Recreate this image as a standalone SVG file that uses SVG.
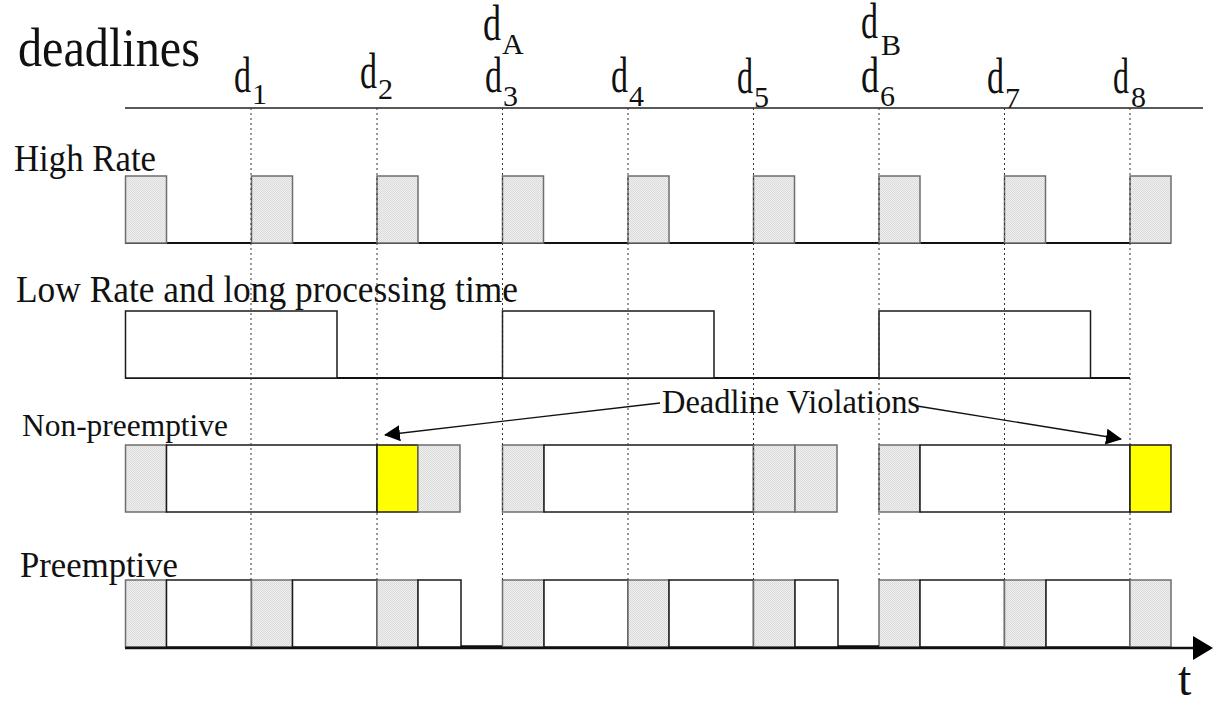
<svg xmlns="http://www.w3.org/2000/svg" width="1213" height="701" viewBox="0 0 1213 701">
  <defs>
    <!-- fine stipple used for the high-rate task slots -->
    <pattern id="stipple" width="2" height="2" patternUnits="userSpaceOnUse">
      <rect width="2" height="2" fill="#f0f0f0"/>
      <rect width="1" height="1" fill="#dadada"/>
      <rect x="1" y="1" width="1" height="1" fill="#dadada"/>
    </pattern>
    <marker id="head" markerWidth="16" markerHeight="16" refX="15" refY="8" orient="auto" markerUnits="userSpaceOnUse">
      <path d="M0,0 L16,8 L0,16 z" fill="#000"/>
    </marker>
  </defs>
  <style>
    text { font-family: "Liberation Serif", "Times New Roman", serif; fill: #111; }
    .big { font-size: 38px; }
    .dmain { font-size: 50px; }
    .dsub { font-size: 30px; }
    .hi { fill: url(#stipple); stroke: #6e6e6e; stroke-width: 1.5; }
    .lo { fill: #fff; stroke: #1a1a1a; stroke-width: 1.5; }
    .miss { fill: #ffff00; stroke: #1a1a1a; stroke-width: 1.5; }
    .base { stroke: #111; stroke-width: 2; fill: none; }
    .tick { stroke: #333; stroke-width: 1; stroke-dasharray: 2 3; fill: none; }
    .conn { stroke: #111; stroke-width: 1.3; fill: none; marker-end: url(#head); }
  </style>
  <rect width="1213" height="701" fill="#fff"/>

  <!-- title and row labels -->
  <g id="title"><text x="18" y="66" style="font-size:54px" textLength="182" lengthAdjust="spacingAndGlyphs">deadlines</text></g>
  <g id="label-high"><text class="big" x="14" y="171" textLength="142" lengthAdjust="spacingAndGlyphs">High Rate</text></g>
  <g id="label-low"><text class="big" x="16" y="302" textLength="502" lengthAdjust="spacingAndGlyphs">Low Rate and long processing time</text></g>
  <g id="label-nonpre"><text x="22" y="436" style="font-size:32px" textLength="206" lengthAdjust="spacingAndGlyphs">Non-preemptive</text></g>
  <g id="label-pre"><text x="20" y="577" style="font-size:36px" textLength="158" lengthAdjust="spacingAndGlyphs">Preemptive</text></g>

  <!-- deadline axis -->
  <g id="deadline-axis">
    <line x1="125" y1="108" x2="1203" y2="108" stroke="#222" stroke-width="1.5"/>
  </g>

  <!-- deadline labels -->
  <g id="deadline-labels">
    <text class="dmain" x="234" y="92" textLength="17" lengthAdjust="spacingAndGlyphs">d</text><text class="dsub" x="252" y="104">1</text>
    <text class="dmain" x="360" y="88" textLength="17" lengthAdjust="spacingAndGlyphs">d</text><text class="dsub" x="378" y="99">2</text>
    <text class="dmain" x="483" y="40" textLength="18" lengthAdjust="spacingAndGlyphs">d</text><text class="dsub" x="502" y="54">A</text>
    <text class="dmain" x="485" y="92" textLength="17" lengthAdjust="spacingAndGlyphs">d</text><text class="dsub" x="503" y="106">3</text>
    <text class="dmain" x="611" y="92" textLength="17" lengthAdjust="spacingAndGlyphs">d</text><text class="dsub" x="629" y="106">4</text>
    <text class="dmain" x="737" y="93" textLength="16" lengthAdjust="spacingAndGlyphs">d</text><text class="dsub" x="754" y="107">5</text>
    <text class="dmain" x="861" y="38" textLength="17" lengthAdjust="spacingAndGlyphs">d</text><text class="dsub" x="881" y="55">B</text>
    <text class="dmain" x="861" y="92" textLength="18" lengthAdjust="spacingAndGlyphs">d</text><text class="dsub" x="880" y="106">6</text>
    <text class="dmain" x="987" y="93" textLength="17" lengthAdjust="spacingAndGlyphs">d</text><text class="dsub" x="1005" y="108">7</text>
    <text class="dmain" x="1113" y="93" textLength="16" lengthAdjust="spacingAndGlyphs">d</text><text class="dsub" x="1131" y="107">8</text>
  </g>

  <!-- high-rate task: short periodic jobs -->
  <g id="row-high">
    <line class="base" x1="125" y1="243" x2="1171" y2="243"/>
    <rect class="hi" x="125.5" y="176" width="41" height="67"/>
    <rect class="hi" x="251.5" y="176" width="41" height="67"/>
    <rect class="hi" x="377" y="176" width="41" height="67"/>
    <rect class="hi" x="502.5" y="176" width="41" height="67"/>
    <rect class="hi" x="628" y="176" width="41" height="67"/>
    <rect class="hi" x="753.5" y="176" width="41" height="67"/>
    <rect class="hi" x="879" y="176" width="41" height="67"/>
    <rect class="hi" x="1004.5" y="176" width="41" height="67"/>
    <rect class="hi" x="1130" y="176" width="41" height="67"/>
  </g>

  <!-- low-rate task: long jobs -->
  <g id="row-low">
    <line class="base" x1="125" y1="378" x2="1130" y2="378" stroke-width="1.5"/>
    <rect class="lo" x="125.5" y="311" width="211.5" height="67"/>
    <rect class="lo" x="502.5" y="311" width="211.5" height="67"/>
    <rect class="lo" x="879" y="311" width="211.5" height="67"/>
  </g>

  <!-- non-preemptive schedule -->
  <g id="row-nonpre">
    <rect class="hi" x="125.5" y="445" width="41" height="67"/>
    <rect class="lo" x="166.5" y="445" width="210.5" height="67"/>
    <rect class="miss" x="377" y="445" width="41" height="67"/>
    <rect class="hi" x="418" y="445" width="42" height="67"/>
    <rect class="hi" x="502.5" y="445" width="41.5" height="67"/>
    <rect class="lo" x="544" y="445" width="209.5" height="67"/>
    <rect class="hi" x="753.5" y="445" width="41.5" height="67"/>
    <rect class="hi" x="795" y="445" width="42" height="67"/>
    <rect class="hi" x="879" y="445" width="41" height="67"/>
    <rect class="lo" x="920" y="445" width="210" height="67"/>
    <rect class="miss" x="1130" y="445" width="41" height="67"/>
  </g>

  <!-- preemptive schedule -->
  <g id="row-pre">
    <rect class="hi" x="125.5" y="580" width="41" height="67"/>
    <rect class="lo" x="166.5" y="580" width="85" height="67"/>
    <rect class="hi" x="251.5" y="580" width="41" height="67"/>
    <rect class="lo" x="292.5" y="580" width="84.5" height="67"/>
    <rect class="hi" x="377" y="580" width="41" height="67"/>
    <rect class="lo" x="418" y="580" width="43" height="67"/>
    <rect class="hi" x="502.5" y="580" width="41.5" height="67"/>
    <rect class="lo" x="544" y="580" width="84" height="67"/>
    <rect class="hi" x="628" y="580" width="41" height="67"/>
    <rect class="lo" x="669" y="580" width="84.5" height="67"/>
    <rect class="hi" x="753.5" y="580" width="41.5" height="67"/>
    <rect class="lo" x="795" y="580" width="43" height="67"/>
    <rect class="hi" x="879" y="580" width="41" height="67"/>
    <rect class="lo" x="920" y="580" width="84.5" height="67"/>
    <rect class="hi" x="1004.5" y="580" width="41.5" height="67"/>
    <rect class="lo" x="1046" y="580" width="84" height="67"/>
    <rect class="hi" x="1130" y="580" width="41" height="67"/>
    <line x1="461" y1="646.5" x2="502" y2="646.5" stroke="#111" stroke-width="2.5"/>
    <line x1="838" y1="646.5" x2="879" y2="646.5" stroke="#111" stroke-width="2.5"/>
  </g>

  <!-- time axis -->
  <g id="time-axis">
    <line x1="125" y1="648" x2="1196" y2="648" stroke="#111" stroke-width="2.5"/>
    <path d="M1193,636 L1213,648 L1193,660 z" fill="#000"/>
    <text x="1178" y="695" style="font-size:48px">t</text>
  </g>

  <!-- deadline guide lines -->
  <g id="guides">
    <line class="tick" x1="251" y1="108" x2="251" y2="580"/>
    <line class="tick" x1="377" y1="108" x2="377" y2="580"/>
    <line class="tick" x1="502.5" y1="108" x2="502.5" y2="580"/>
    <line class="tick" x1="628" y1="108" x2="628" y2="580"/>
    <line class="tick" x1="753.5" y1="108" x2="753.5" y2="580"/>
    <line class="tick" x1="879" y1="108" x2="879" y2="580"/>
    <line class="tick" x1="1004.5" y1="108" x2="1004.5" y2="580"/>
    <line class="tick" x1="1130" y1="108" x2="1130" y2="580"/>
  </g>

  <!-- annotation -->
  <g id="violations"><text x="662" y="413" style="font-size:34px" textLength="258" lengthAdjust="spacingAndGlyphs">Deadline Violations</text></g>
  <g id="connectors">
    <line class="conn" x1="660" y1="403" x2="385" y2="435"/>
    <line class="conn" x1="917" y1="406" x2="1121" y2="439"/>
  </g>
</svg>
